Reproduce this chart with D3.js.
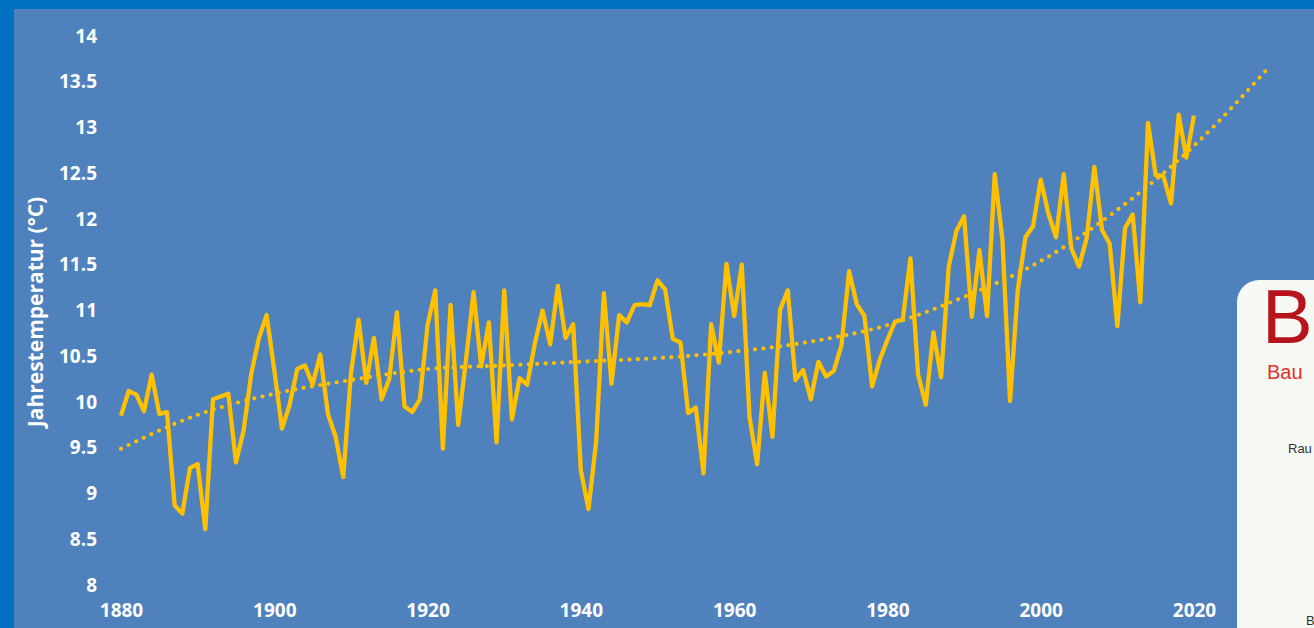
<!DOCTYPE html>
<html><head><meta charset="utf-8">
<script src="https://cdn.jsdelivr.net/npm/d3@7"></script>
<style>html,body{margin:0;padding:0;overflow:hidden;background:#0070C0}</style>
</head><body>
<svg id="c" width="1314" height="628"></svg>
<script>
const years = d3.range(1880, 2021);
const temps = [
 9.85,10.12,10.08,9.90,10.30,9.87,9.89,8.87,8.78,9.28,
 9.32,8.61,10.03,10.06,10.09,9.34,9.69,10.31,10.70,10.95,
 10.35,9.71,9.97,10.36,10.40,10.19,10.52,9.87,9.62,9.18,
 10.31,10.90,10.21,10.70,10.03,10.25,10.98,9.95,9.89,10.03,
 10.84,11.22,9.49,11.06,9.75,10.45,11.20,10.39,10.87,9.56,
 11.22,9.81,10.26,10.19,10.64,11.00,10.63,11.27,10.70,10.85,
 9.25,8.83,9.57,11.19,10.20,10.95,10.87,11.06,11.07,11.06,
 11.33,11.23,10.69,10.65,9.88,9.94,9.22,10.85,10.43,11.51,
 10.94,11.50,9.84,9.32,10.32,9.62,11.01,11.22,10.24,10.35,
 10.03,10.44,10.28,10.34,10.62,11.43,11.07,10.94,10.17,10.46,
 10.68,10.88,10.90,11.57,10.30,9.97,10.76,10.27,11.48,11.87,
 12.03,10.93,11.66,10.94,12.49,11.78,10.01,11.22,11.80,11.92,
 12.43,12.06,11.80,12.49,11.68,11.48,11.79,12.57,11.88,11.73,
 10.83,11.90,12.05,11.09,13.05,12.48,12.47,12.17,13.14,12.67,
 13.13
];
const trendYears = [1880,1890,1900,1910,1920,1930,1940,1950,1960,1970,1980,1990,2000,2010,2020,2030];
const trendVals  = [9.49,9.86,10.09,10.24,10.36,10.40,10.44,10.48,10.55,10.66,10.84,11.15,11.54,12.10,12.80,13.68];
const yTicks = [8,8.5,9,9.5,10,10.5,11,11.5,12,12.5,13,13.5,14];
const xTicks = [1880,1900,1920,1940,1960,1980,2000,2020];
const yTitle = "Jahrestemperatur (°C)";

const svg = d3.select("#c");
svg.append("rect").attr("x",14).attr("y",9).attr("width",1300).attr("height",619).attr("fill","#4F81BD");

const x = d3.scaleLinear().domain([1880,2020]).range([121,1194]);
const y = d3.scaleLinear().domain([8,14]).range([585,36]);

const font = "'Open Sans', sans-serif";
const yAxis = svg.append("g").attr("transform","translate(97,0)")
  .call(d3.axisLeft(y).tickValues(yTicks).tickSize(0).tickPadding(0).tickFormat(d3.format("")));
yAxis.select(".domain").remove();
yAxis.selectAll("text").attr("fill","#fff").style("font-family",font).style("font-weight","700").style("font-size","19px");

const xAxis = svg.append("g").attr("transform","translate(0,603)")
  .call(d3.axisBottom(x).tickValues(xTicks).tickSize(0).tickPadding(0).tickFormat(d3.format("d")));
xAxis.select(".domain").remove();
xAxis.selectAll("text").attr("fill","#fff").style("font-family",font).style("font-weight","700").style("font-size","19px");

svg.append("text").attr("transform","translate(43,312) rotate(-90)")
  .attr("text-anchor","middle").attr("fill","#fff")
  .style("font-family",font).style("font-weight","700").style("font-size","21px").text(yTitle);

// trend
svg.append("path").datum(trendYears.map((d,i)=>[d,trendVals[i]]))
  .attr("fill","none").attr("stroke","#FFC000").attr("stroke-width",4.2)
  .attr("stroke-linecap","round").attr("stroke-dasharray","0 8.4")
  .attr("d", d3.line().x(d=>x(d[0])).y(d=>y(d[1])).curve(d3.curveMonotoneX));

// main line
svg.append("path").datum(years.map((d,i)=>[d,temps[i]]))
  .attr("fill","none").attr("stroke","#FFC000").attr("stroke-width",4.3)
  .attr("stroke-linejoin","round")
  .attr("d", d3.line().x(d=>x(d[0])).y(d=>y(d[1])));

// logo fragment
const lf = "'Liberation Sans', Arial, sans-serif";
const logo = svg.append("g");
logo.append("rect").attr("x",1237).attr("y",280).attr("width",120).attr("height",400).attr("rx",22).attr("fill","#F7F9F4");
logo.append("text").attr("x",1262).attr("y",343).attr("fill","#B8141C").style("font-family",lf).style("font-size","76px").text("B");
logo.append("text").attr("x",1267).attr("y",379).attr("fill","#E3312A").style("font-family",lf).style("font-size","20px").text("Bau");
logo.append("text").attr("x",1288).attr("y",453).attr("fill","#333").style("font-family",lf).style("font-size","13px").text("Rau");
logo.append("text").attr("x",1306).attr("y",625).attr("fill","#333").style("font-family",lf).style("font-size","13px").text("B");
</script>
</body></html>
